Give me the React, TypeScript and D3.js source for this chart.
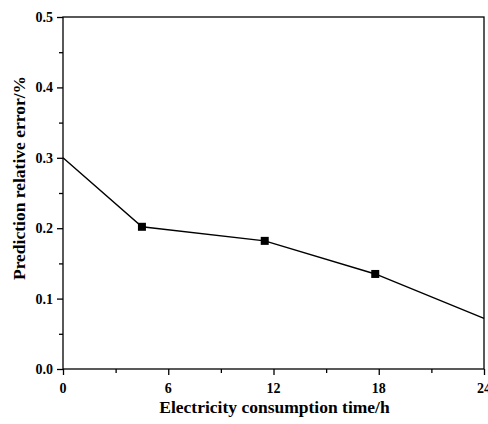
import { useEffect, useRef } from "react";
import * as d3 from "d3";

const hours = [0, 4.5, 11.5, 17.8, 24];
const errors = [0.3, 0.202, 0.182, 0.135, 0.072];
const markerIdx = [1, 2, 3];
const xTicks = [0, 6, 12, 18, 24];
const yTicks = [0, 0.1, 0.2, 0.3, 0.4, 0.5];

const App = () => {
  const ref = useRef<SVGSVGElement>(null);

  useEffect(() => {
    const width = 488;
    const height = 424;
    const m = { left: 63, right: 4, top: 17, bottom: 55 };
    const svg = d3.select(ref.current);
    svg.selectAll("*").remove();

    const x = d3.scaleLinear().domain([0, 24]).range([m.left, width - m.right]);
    const y = d3.scaleLinear().domain([0, 0.5]).range([height - m.bottom, m.top]);
    const font = "'Liberation Serif', 'Times New Roman', serif";

    // frame
    svg
      .append("rect")
      .attr("x", m.left)
      .attr("y", m.top)
      .attr("width", width - m.left - m.right)
      .attr("height", height - m.top - m.bottom)
      .attr("fill", "none")
      .attr("stroke", "black")
      .attr("stroke-width", 1.3);

    // x axis
    const gx = svg
      .append("g")
      .attr("transform", `translate(0,${height - m.bottom})`);
    gx.call(
      d3
        .axisBottom(x)
        .tickValues(d3.range(0, 25, 3))
        .tickSize(4)
        .tickFormat(() => "")
    );
    gx.selectAll(".tick line")
      .attr("y2", (d: any) => (d % 6 === 0 ? 6 : 4))
      .attr("stroke-width", 1.3);
    gx.select(".domain").remove();
    svg
      .append("g")
      .selectAll("text")
      .data(xTicks)
      .join("text")
      .attr("x", (d) => x(d))
      .attr("y", height - m.bottom + 24)
      .attr("text-anchor", "middle")
      .attr("font-family", font)
      .attr("font-weight", "bold")
      .attr("font-size", 14)
      .text((d) => d);

    // y axis
    const gy = svg.append("g").attr("transform", `translate(${m.left},0)`);
    gy.call(
      d3
        .axisLeft(y)
        .tickValues(d3.range(0, 0.51, 0.05))
        .tickSize(4)
        .tickFormat(() => "")
    );
    gy.selectAll(".tick line")
      .attr("x2", (d: any, i) => (i % 2 === 0 ? -6 : -4))
      .attr("stroke-width", 1.3);
    gy.select(".domain").remove();
    svg
      .append("g")
      .selectAll("text")
      .data(yTicks)
      .join("text")
      .attr("x", m.left - 10)
      .attr("y", (d) => y(d))
      .attr("dy", "0.35em")
      .attr("text-anchor", "end")
      .attr("font-family", font)
      .attr("font-weight", "bold")
      .attr("font-size", 14)
      .text((d) => d.toFixed(1));

    // titles
    svg
      .append("text")
      .attr("x", (m.left + width - m.right) / 2 + 1)
      .attr("y", height - 11)
      .attr("text-anchor", "middle")
      .attr("font-family", font)
      .attr("font-weight", "bold")
      .attr("font-size", 17.5)
      .text("Electricity consumption time/h");
    svg
      .append("text")
      .attr("transform", `translate(25,178) rotate(-90)`)
      .attr("text-anchor", "middle")
      .attr("font-family", font)
      .attr("font-weight", "bold")
      .attr("font-size", 17.5)
      .text("Prediction relative error/%");

    // line
    const pts = hours.map((h, i) => [h, errors[i]] as [number, number]);
    const line = d3
      .line<[number, number]>()
      .x((d) => x(d[0]))
      .y((d) => y(d[1]));
    svg
      .append("path")
      .attr("d", line(pts))
      .attr("fill", "none")
      .attr("stroke", "black")
      .attr("stroke-width", 1.4);

    const s = 8;
    svg
      .append("g")
      .selectAll("rect")
      .data(markerIdx.map((i) => pts[i]))
      .join("rect")
      .attr("x", (d) => x(d[0]) - s / 2)
      .attr("y", (d) => y(d[1]) - s / 2)
      .attr("width", s)
      .attr("height", s)
      .attr("fill", "black");
  }, []);

  return (
    <svg
      ref={ref}
      width={488}
      height={424}
      style={{ position: "absolute", left: 0, top: 0, background: "white" }}
    />
  );
};

export default App;
